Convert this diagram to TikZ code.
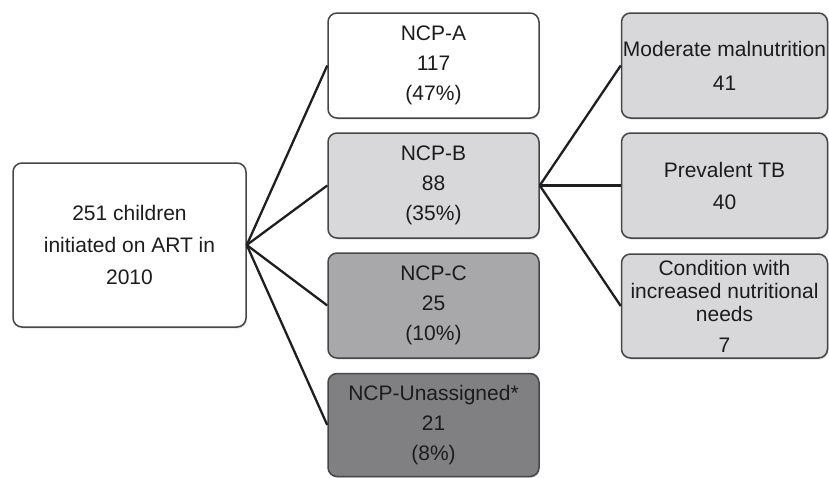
\documentclass[tikz,border=0pt]{standalone}
\usepackage{fontspec}
\setmainfont{Liberation Sans}
\usetikzlibrary{shadows}
\definecolor{bordc}{RGB}{70,70,73}
\definecolor{txtc}{RGB}{28,28,28}
\definecolor{fillB}{RGB}{216,216,219}
\definecolor{fillC}{RGB}{168,168,171}
\definecolor{fillU}{RGB}{128,128,131}
\tikzset{
  box/.style={draw=bordc, line width=1.5pt, rounded corners=9pt, align=center,
    text=txtc, inner sep=0pt,
    drop shadow={opacity=0.25, shadow xshift=1pt, shadow yshift=-1.5pt},
    font=\fontsize{21}{30}\selectfont},
  link/.style={line width=2.3pt, draw=black!88}
}
\begin{document}
\begin{tikzpicture}[x=1pt,y=-1pt]
\useasboundingbox (0,0) rectangle (829,477);
\node[box, fill=white, minimum width=233pt, minimum height=164pt,
  font=\fontsize{21}{32}\selectfont] (root) at (129.5,245) {251 children\\initiated on ART in\\2010};
\node[box, fill=white, minimum width=211pt, minimum height=105pt] (a) at (433.5,65.5) {NCP-A\\117\\(47\%)};
\node[box, fill=fillB, minimum width=211pt, minimum height=105pt] (b) at (433.5,185.5) {NCP-B\\88\\(35\%)};
\node[box, fill=fillC, minimum width=211pt, minimum height=105pt] (c) at (433.5,305.5) {NCP-C\\25\\(10\%)};
\node[box, fill=fillU, minimum width=211pt, minimum height=103pt] (u) at (433.5,425) {NCP-Unassigned*\\21\\(8\%)};
\node[box, fill=fillB, minimum width=206pt, minimum height=105pt,
  font=\fontsize{21}{34}\selectfont] (m) at (724.5,65.5) {Moderate malnutrition\\41};
\node[box, fill=fillB, minimum width=206pt, minimum height=105pt,
  font=\fontsize{21}{32}\selectfont] (t) at (724.5,185.5) {Prevalent TB\\40};
\node[box, fill=fillB, minimum width=206pt, minimum height=104pt,
  font=\fontsize{21}{23}\selectfont] (n) at (724.5,306) {Condition with\\increased nutritional\\needs\\[8pt]7};
\draw[link] (root.east) -- (a.west);
\draw[link] (root.east) -- (b.west);
\draw[link] (root.east) -- (c.west);
\draw[link] (root.east) -- (u.west);
\draw[link] (b.east) -- (m.west);
\draw[link] (b.east) -- (t.west);
\draw[link] (b.east) -- (n.west);
\end{tikzpicture}
\end{document}
